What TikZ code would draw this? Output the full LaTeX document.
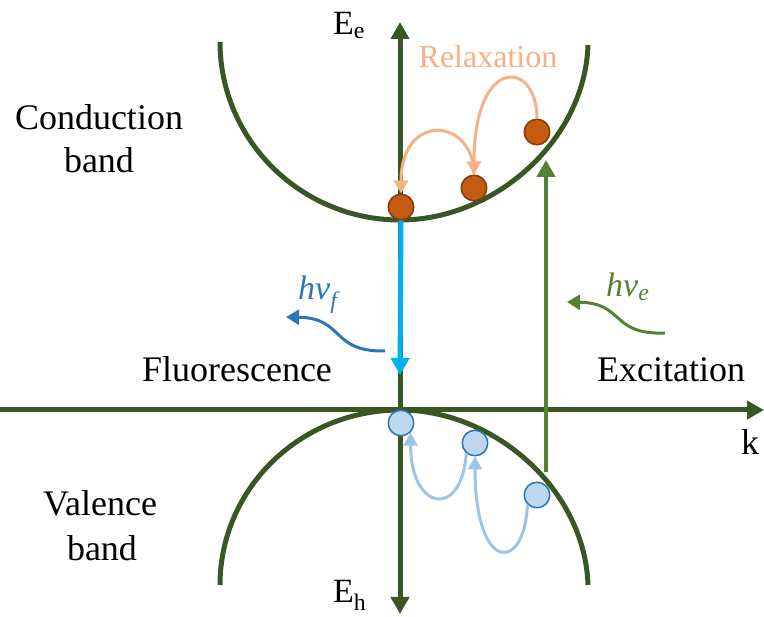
\documentclass[tikz,border=0pt]{standalone}
\usepackage{fontspec}
\setmainfont{Liberation Serif}
\usetikzlibrary{arrows.meta}
\definecolor{axgreen}{HTML}{385723}
\definecolor{exgreen}{HTML}{548235}
\definecolor{flcyan}{HTML}{00B0F0}
\definecolor{elecfill}{HTML}{C55A11}
\definecolor{elecline}{HTML}{843C0C}
\definecolor{relaxcol}{HTML}{F4B183}
\definecolor{holefill}{HTML}{BDD7EE}
\definecolor{holeline}{HTML}{2E75B6}
\definecolor{liftcol}{HTML}{9DC3E6}
\tikzset{
  axis/.style={line width=5pt,axgreen},
  bigtip/.style={-{Triangle[width=18pt,length=17pt]}},
  elec/.style={circle,fill=elecfill,draw=elecline,line width=1.5pt,minimum size=25.5pt,inner sep=0pt},
  hole/.style={circle,fill=holefill,draw=holeline,line width=1.5pt,minimum size=25.5pt,inner sep=0pt},
  relax/.style={line width=3pt,relaxcol,-{Triangle[width=14pt,length=13pt]}},
  lift/.style={line width=3pt,liftcol,-{Triangle[width=14pt,length=13pt]}},
  photon/.style={line width=3pt,-{Triangle[width=15pt,length=13pt]}},
  lbl/.style={inner sep=0pt,anchor=base,font=\fontsize{36}{43}\selectfont}
}
\begin{document}
\begin{tikzpicture}[x=1pt,y=1pt]
\useasboundingbox (0,0) rectangle (764,-617);
\coordinate (etop) at (400,-22);\coordinate (ebot) at (400,-614);\coordinate (kl) at (0,-410);\coordinate (kr) at (764,-410);
\coordinate (exbot) at (546,-472);\coordinate (extop) at (546,-160);\coordinate (flend) at (400,-375);
\coordinate (pf1) at (385,-351);\coordinate (pf2) at (286,-317);\coordinate (pe1) at (665,-333);\coordinate (pe2) at (567,-302);
% axes and bands
\draw[axis,{Triangle[width=18pt,length=17pt]}-{Triangle[width=18pt,length=17pt]}] (ebot)--(etop);
\draw[axis,bigtip] (kl)--(kr);
\draw[axis] (220,-42) .. controls (220,-140) and (301,-220) .. (400,-220) .. controls (495,-220) and (585,-140) .. (588,-45);
\draw[axis] (220,-585) .. controls (220,-488) and (301,-410) .. (400,-410) .. controls (495,-410) and (585,-490) .. (588,-585);
\draw[line width=4.5pt,exgreen,bigtip] (exbot)--(extop);
% carriers
\node[elec] (e1) at (401,-207){};\node[elec] (e2) at (474,-188){};\node[elec] (e3) at (537,-132){};
\node[hole] (h1) at (401,-423){};\node[hole] (h2) at (475,-443){};\node[hole] (h3) at (537,-495){};
\draw[line width=5pt,flcyan,bigtip] (e1.south)--(flend);
\draw[relax] (e3.north) .. controls +(0,59) and +(0,120) .. (e2.north);
\draw[relax] (e2.north) .. controls +(0,57) and +(0,82) .. (e1.north);
\draw[lift] (h2.230) .. controls +(-5,-67) and +(0,-78) .. (h1.-45);
\draw[lift] (h3.225) .. controls +(-3,-69) and +(0,-117) .. (h2.south);
\draw[photon,holeline] (pf1) .. controls +(-55,-1) and +(59,-1) .. (pf2);
\draw[photon,exgreen] (pe1) .. controls +(-55,-2) and +(58,-1) .. (pe2);
% labels
\node[lbl] (cb1) at (99,-130){Conduction};\node[lbl] (cb2) at (99,-173){band};
\node[lbl] (vb1) at (100,-516){Valence};\node[lbl] (vb2) at (102,-561){band};
\node[lbl] (fl) at (237,-382){Fluorescence};\node[lbl] (ex) at (671,-382){Excitation};
\node[lbl] (kk) at (750,-455){k};
\node[lbl,anchor=base west,font=\fontsize{34}{40}\selectfont] (ee) at (333,-35){E\textsubscript{e}};
\node[lbl,anchor=base west,font=\fontsize{34}{40}\selectfont] (eh) at (333,-603){E\textsubscript{h}};
\node[lbl,relaxcol,font=\fontsize{32}{38}\selectfont] (rl) at (488,-68){Relaxation};
\node[lbl,anchor=base west,holeline,font=\fontsize{34}{40}\selectfont\itshape] (hf) at (298,-300){hv\textsubscript{f}};
\node[lbl,anchor=base west,exgreen,font=\fontsize{34}{40}\selectfont\itshape] (he) at (606,-297){hv\textsubscript{e}};
\end{tikzpicture}
\end{document}
